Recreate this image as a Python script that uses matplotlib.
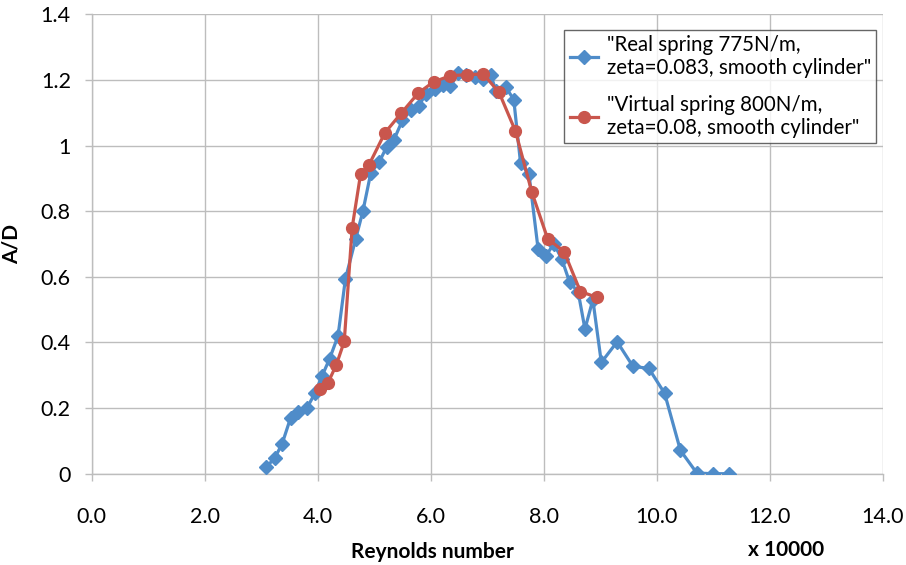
import matplotlib
matplotlib.use('Agg')
import matplotlib.pyplot as plt

# Reynolds number (x 10000) and A/D for the real spring run
real_re = [3.09, 3.24, 3.37, 3.52, 3.66, 3.81, 3.95, 4.08, 4.21, 4.36,
           4.49, 4.67, 4.80, 4.94, 5.09, 5.22, 5.35, 5.50, 5.65, 5.79,
           5.92, 6.07, 6.21, 6.35, 6.49, 6.63, 6.78, 6.93, 7.06, 7.16,
           7.33, 7.47, 7.59, 7.74, 7.90, 8.04, 8.18, 8.32, 8.46, 8.61,
           8.73, 8.87, 9.02, 9.30, 9.58, 9.86, 10.14, 10.42, 10.71, 11.00,
           11.28]
real_ad = [0.020, 0.048, 0.091, 0.170, 0.188, 0.200, 0.245, 0.299, 0.350, 0.420,
           0.593, 0.714, 0.800, 0.917, 0.950, 0.996, 1.018, 1.077, 1.109, 1.122,
           1.158, 1.172, 1.185, 1.182, 1.221, 1.214, 1.209, 1.203, 1.216, 1.165,
           1.178, 1.140, 0.947, 0.912, 0.686, 0.664, 0.701, 0.654, 0.583, 0.554,
           0.441, 0.530, 0.339, 0.402, 0.327, 0.321, 0.245, 0.071, 0.002, 0.0,
           0.0]

# virtual spring run
virt_re = [4.04, 4.18, 4.33, 4.47, 4.61, 4.76, 4.91, 5.19, 5.48, 5.78,
           6.05, 6.35, 6.64, 6.93, 7.21, 7.50, 7.79, 8.07, 8.36, 8.65, 8.95]
virt_ad = [0.258, 0.276, 0.332, 0.403, 0.750, 0.914, 0.942, 1.039, 1.099, 1.160,
           1.194, 1.213, 1.216, 1.218, 1.162, 1.044, 0.858, 0.716, 0.677, 0.555, 0.537]

real_label = '"Real spring 775N/m,\nzeta=0.083, smooth cylinder"'
virt_label = '"Virtual spring 800N/m,\nzeta=0.08, smooth cylinder"'

x_ticks = [0, 2, 4, 6, 8, 10, 12, 14]
y_ticks = [0, 0.2, 0.4, 0.6, 0.8, 1.0, 1.2, 1.4]
y_tick_labels = ['0', '0.2', '0.4', '0.6', '0.8', '1', '1.2', '1.4']

plt.rcParams['font.family'] = ['Lato', 'DejaVu Sans']

W, H = 906, 565
fig = plt.figure(figsize=(W / 100, H / 100), dpi=100)
ax = fig.add_axes([91.7 / W, 1 - 473.7 / H, 791 / W, 459.4 / H])

blue = '#4F8CC9'
red = '#C9564D'

ax.plot(real_re, real_ad, '-', color=blue, lw=2.3, marker='D', ms=7,
        mfc=blue, mec=blue, label=real_label, zorder=3)
ax.plot(virt_re, virt_ad, '-', color=red, lw=2.3, marker='o', ms=8.5,
        mfc=red, mec=red, label=virt_label, zorder=4)

ax.set_xlim(0, 14)
ax.set_ylim(0, 1.4)
ax.set_xticks(x_ticks)
ax.set_xticklabels([f'{v:.1f}' for v in x_ticks])
ax.set_yticks(y_ticks)
ax.set_yticklabels(y_tick_labels)

grid_c = '#BDBDBD'
ax.grid(True, color=grid_c, lw=1.0)
ax.set_axisbelow(True)
for s in ['top', 'right']:
    ax.spines[s].set_visible(False)
for s in ['left', 'bottom']:
    ax.spines[s].set_color(grid_c)
    ax.spines[s].set_linewidth(1.0)
ax.tick_params(axis='both', colors=grid_c, labelcolor='black', labelsize=15.5,
               length=5, width=1.0)
ax.tick_params(axis='x', pad=19)
ax.tick_params(axis='y', pad=10)

ax.set_ylabel('A/D', fontsize=15, fontweight='bold', labelpad=14)
fig.text(432 / W, 1 - 552 / H, 'Reynolds number', fontsize=15,
         fontweight='bold', ha='center', va='center')
fig.text(786 / W, 1 - 550 / H, 'x 10000', fontsize=15,
         fontweight='bold', ha='center', va='center')

leg = ax.legend(loc='upper right', bbox_to_anchor=(0.9915, 0.966),
                borderaxespad=0, fontsize=14.8, frameon=True, fancybox=False,
                handlelength=1.4, handletextpad=0.4, labelspacing=0.8,
                borderpad=0.25)
for t in leg.get_texts():
    t.set_linespacing(1.2)
leg.get_frame().set_edgecolor('#404040')
leg.get_frame().set_linewidth(1.0)

fig.savefig('out.png', dpi=100)
